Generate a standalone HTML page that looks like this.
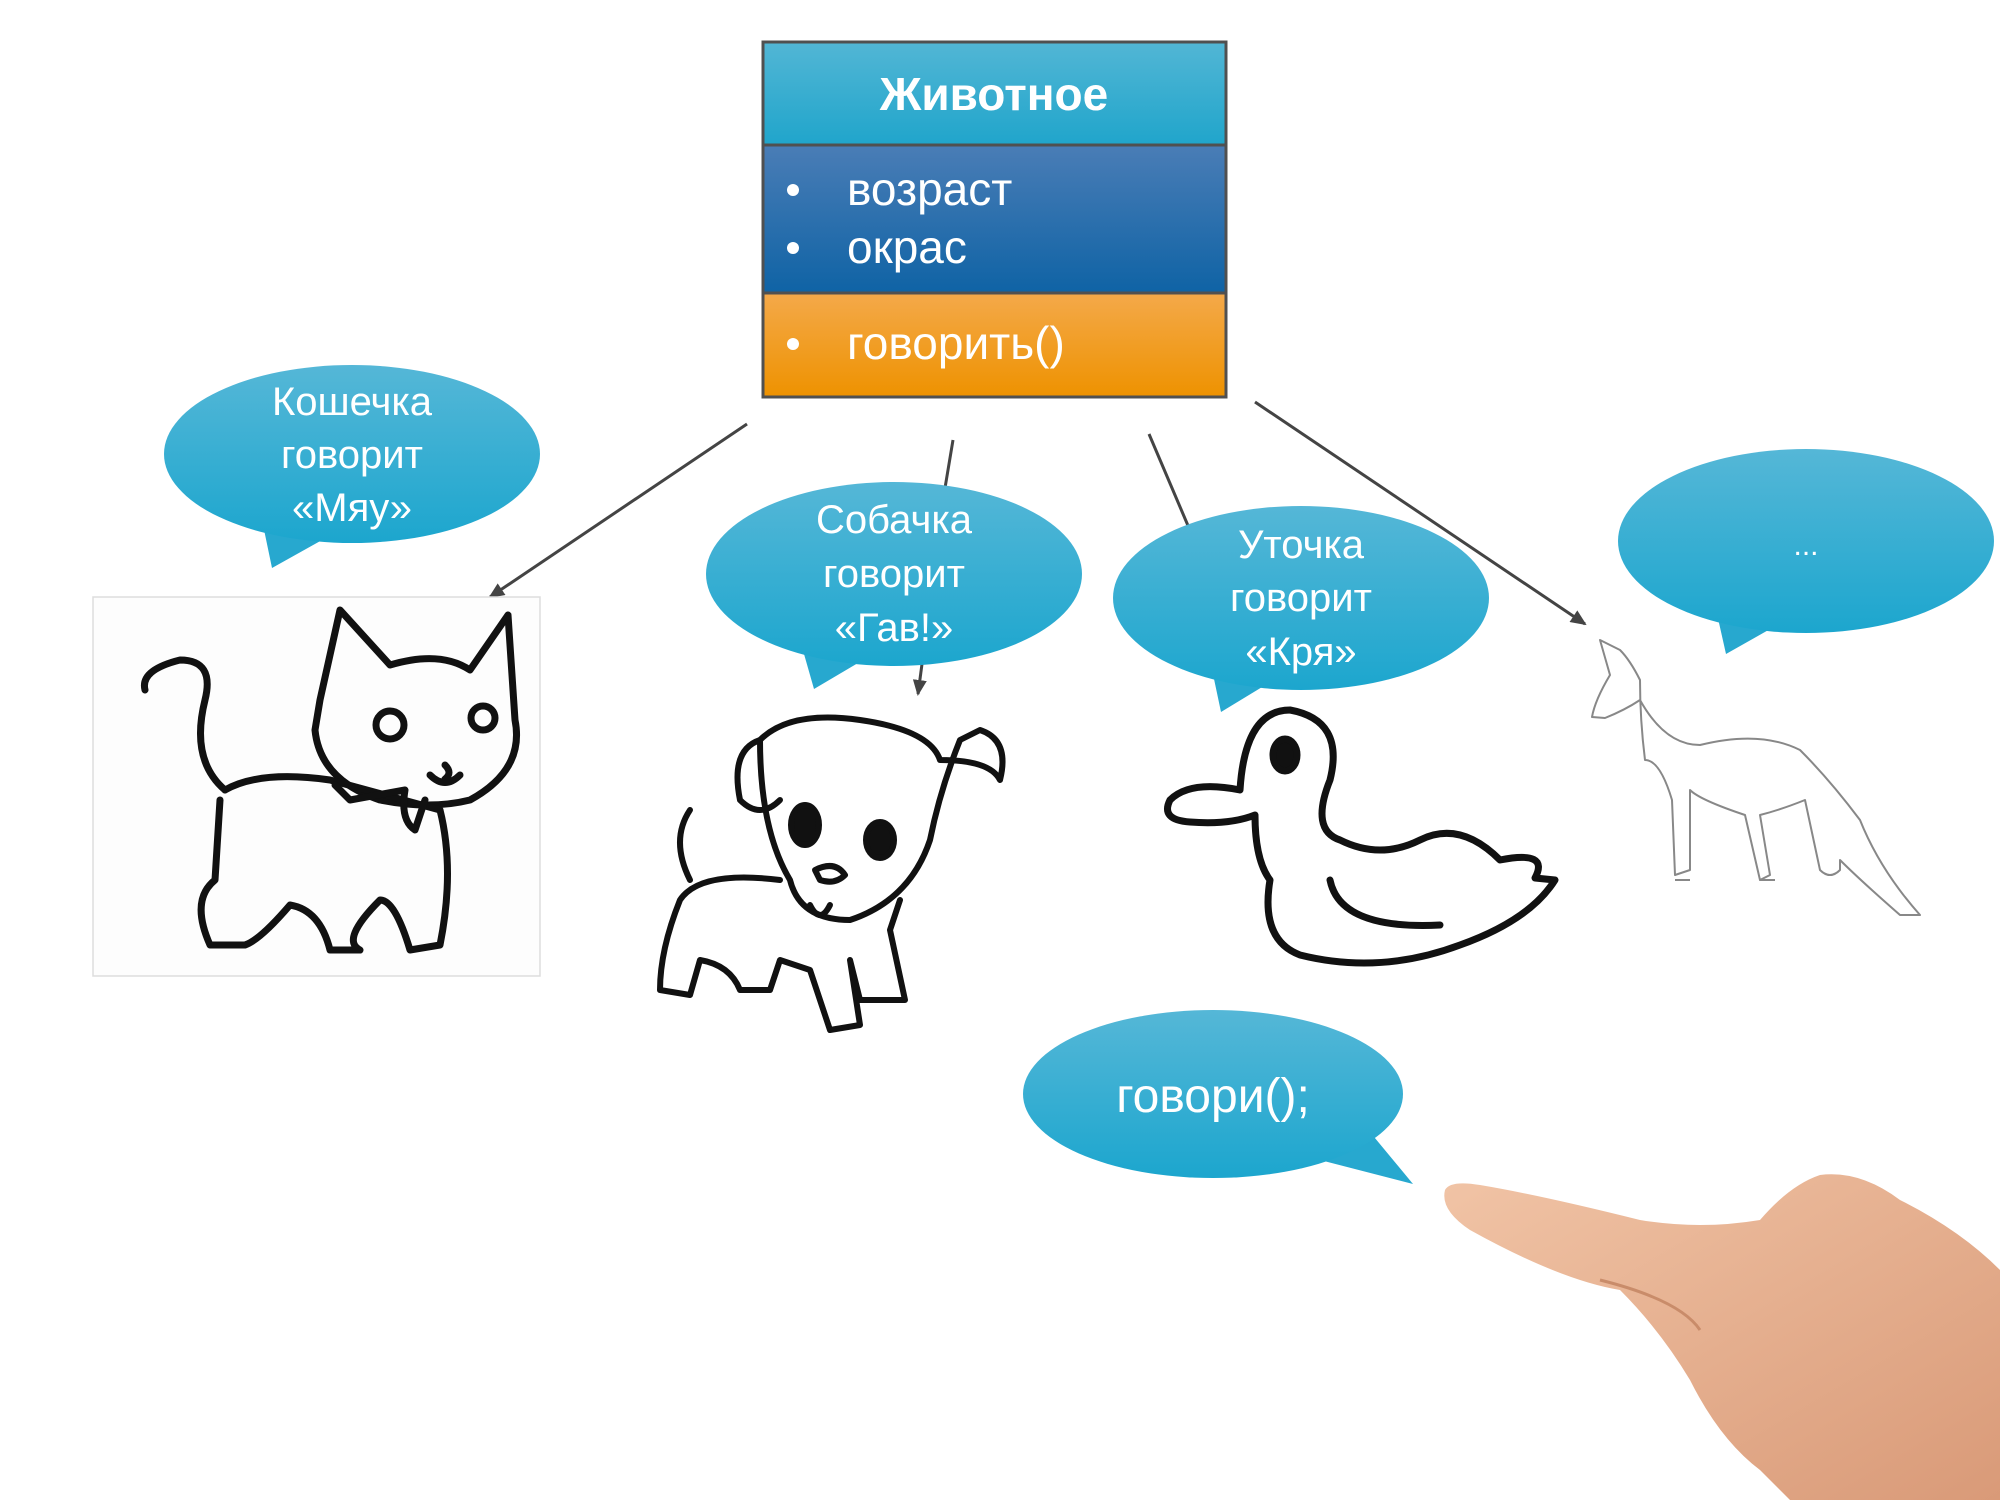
<!DOCTYPE html>
<html><head><meta charset="utf-8"><style>
html,body{margin:0;padding:0;background:#fff;}
svg{display:block;}
text{font-family:"Liberation Sans",sans-serif;}
</style></head><body>
<svg width="2000" height="1500" viewBox="0 0 2000 1500" xmlns="http://www.w3.org/2000/svg">
<defs>
<linearGradient id="gt" x1="0" y1="0" x2="0" y2="1"><stop offset="0" stop-color="#52b6d5"/><stop offset="1" stop-color="#20a5cb"/></linearGradient>
<linearGradient id="gb" x1="0" y1="0" x2="0" y2="1"><stop offset="0" stop-color="#4a7db6"/><stop offset="1" stop-color="#0f63a5"/></linearGradient>
<linearGradient id="go" x1="0" y1="0" x2="0" y2="1"><stop offset="0" stop-color="#f4a94a"/><stop offset="1" stop-color="#ee9200"/></linearGradient>
<linearGradient id="gc" x1="0" y1="0" x2="0" y2="1"><stop offset="0" stop-color="#55b7d7"/><stop offset="1" stop-color="#1ca6ce"/></linearGradient>
<linearGradient id="skin" x1="0" y1="0" x2="1" y2="1"><stop offset="0" stop-color="#f1c4a6"/><stop offset="1" stop-color="#d99a78"/></linearGradient>
<marker id="ar" markerWidth="16" markerHeight="14" refX="14" refY="7" orient="auto" markerUnits="userSpaceOnUse"><path d="M0,0 L16,7 L0,14 z" fill="#444"/></marker>
</defs>

<rect x="763" y="42" width="463" height="103" fill="url(#gt)"/>
<rect x="763" y="145" width="463" height="148" fill="url(#gb)"/>
<rect x="763" y="293" width="463" height="104" fill="url(#go)"/>
<rect x="763" y="42" width="463" height="355" fill="none" stroke="#505050" stroke-width="3"/>
<line x1="763" y1="145" x2="1226" y2="145" stroke="#505050" stroke-width="3"/>
<line x1="763" y1="293" x2="1226" y2="293" stroke="#505050" stroke-width="3"/>
<text x="994" y="110" fill="#fff" font-size="46" font-weight="bold" text-anchor="middle">Животное</text>
<g fill="#fff" font-size="46">
<circle cx="793" cy="190" r="6"/><text x="847" y="205">возраст</text>
<circle cx="793" cy="248" r="6"/><text x="847" y="263">окрас</text>
<circle cx="793" cy="344" r="6"/><text x="847" y="359">говорить()</text>
</g>

<g stroke="#444" stroke-width="3" fill="none">
<line x1="747" y1="424" x2="490" y2="597" marker-end="url(#ar)"/>
<line x1="953" y1="440" x2="945" y2="488"/>
<line x1="922" y1="664" x2="918" y2="694" marker-end="url(#ar)"/>
<line x1="1149" y1="434" x2="1189" y2="528"/>
<line x1="1255" y1="402" x2="1585" y2="624" marker-end="url(#ar)"/>
</g>

<g fill="#27a8cf">
<path d="M262,520 L272,568 L340,530 z"/>
<path d="M800,640 L814,689 L880,650 z"/>
<path d="M1210,660 L1221,712 L1290,670 z"/>
<path d="M1715,605 L1726,654 L1795,615 z"/>
<path d="M1360,1120 L1413,1184 L1320,1160 z"/>
</g>
<g fill="url(#gc)">
<ellipse cx="352" cy="454" rx="188" ry="89"/>
<ellipse cx="894" cy="574" rx="188" ry="92"/>
<ellipse cx="1301" cy="598" rx="188" ry="92"/>
<ellipse cx="1806" cy="541" rx="188" ry="92"/>
<ellipse cx="1213" cy="1094" rx="190" ry="84"/>
</g>
<g fill="#fff" font-size="40" text-anchor="middle">
<text x="352" y="415">Кошечка</text><text x="352" y="468">говорит</text><text x="352" y="521">«Мяу»</text>
<text x="894" y="533">Собачка</text><text x="894" y="587">говорит</text><text x="894" y="641">«Гав!»</text>
<text x="1301" y="558">Уточка</text><text x="1301" y="611">говорит</text><text x="1301" y="665">«Кря»</text>
<text x="1806" y="555" font-size="30">...</text>
<text x="1213" y="1112" font-size="48">говори();</text>
</g>

<rect x="93" y="597" width="447" height="379" fill="#fdfdfd" stroke="#ddd" stroke-width="1.5"/>
<g fill="none" stroke="#111" stroke-width="7" stroke-linejoin="round" stroke-linecap="round">
<path d="M320,700 L340,610 L390,665 Q440,650 470,670 L508,615 L515,720 Q525,770 470,800 Q430,810 380,800 Q320,780 315,730 Z"/>
<path d="M225,790 Q260,770 330,780 L440,810 Q455,870 440,945 L410,950 Q395,900 380,900 Q340,940 360,950 L330,950 Q320,910 290,905 Q260,940 245,945 L210,945 Q190,900 215,880 L220,800"/>
<path d="M225,790 Q190,760 205,700 Q215,660 180,660 Q140,670 145,690"/>
<path d="M335,785 L350,800 L405,790 Q400,820 415,830 L425,800"/>
<circle cx="390" cy="725" r="14"/><circle cx="483" cy="718" r="12"/>
<path d="M445,765 q8,8 0,14 M430,775 q15,15 30,0"/>
</g>

<g fill="none" stroke="#111" stroke-width="6" stroke-linejoin="round" stroke-linecap="round">
<path d="M760,740 Q790,710 860,720 Q930,730 940,760 Q990,760 1000,780 Q1010,740 980,730 L960,740 Q940,790 930,840 Q910,900 850,920 Q800,920 790,880 Q760,830 760,740 Z"/>
<path d="M760,740 Q730,750 740,800 Q760,820 780,800"/>
<path d="M780,880 Q700,870 680,900 Q660,950 660,990 L690,995 L700,960 Q730,965 740,990 L770,990 L780,960 L810,970 L830,1030 L860,1025 L850,960 L860,1000 L905,1000 L890,930 L900,900"/>
<path d="M690,880 Q670,840 690,810"/>
<ellipse cx="805" cy="825" rx="14" ry="20" fill="#111"/><ellipse cx="880" cy="840" rx="14" ry="18" fill="#111"/>
<path d="M815,870 Q835,860 845,875 Q835,885 820,880 Z"/><path d="M810,905 q10,20 20,0"/>
</g>

<g fill="none" stroke="#111" stroke-width="7" stroke-linejoin="round" stroke-linecap="round">
<path d="M1240,790 Q1190,780 1170,800 Q1160,820 1190,822 Q1230,825 1255,815 Q1255,860 1270,880 Q1260,940 1300,955 Q1380,975 1460,945 Q1530,920 1555,880 L1535,878 Q1550,850 1500,860 Q1460,820 1420,840 Q1380,860 1340,840 Q1310,830 1330,780 Q1345,720 1290,710 Q1245,710 1240,790 Z"/>
<path d="M1330,880 Q1340,930 1440,925"/>
<ellipse cx="1285" cy="755" rx="12" ry="16" fill="#111"/>
</g>

<g fill="none" stroke="#888" stroke-width="2" stroke-linejoin="round">
<path d="M1600,640 L1610,675 Q1595,700 1592,717 L1605,718 Q1625,710 1640,700 Q1665,745 1700,745 Q1760,730 1800,750 Q1830,780 1860,820 Q1880,870 1920,915 L1900,915 Q1860,880 1840,860 L1840,870 Q1830,880 1820,870 L1805,800 Q1780,810 1760,815 L1770,875 L1760,880 L1745,815 Q1700,800 1690,790 L1690,870 L1675,875 L1672,800 Q1660,760 1645,760 Q1640,720 1640,680 Q1630,660 1620,650 Z"/>
<path d="M1675,880 L1690,880 M1760,880 L1775,880"/>
</g>

<path d="M1445,1190 Q1440,1210 1470,1230 Q1560,1280 1620,1290 Q1660,1330 1690,1380 Q1720,1440 1760,1470 L1790,1500 L2000,1500 L2000,1270 Q1960,1230 1900,1200 Q1860,1170 1820,1175 Q1790,1185 1760,1220 Q1700,1230 1640,1220 Q1540,1195 1480,1185 Q1450,1180 1445,1190 Z" fill="url(#skin)"/>
<path d="M1600,1280 Q1680,1300 1700,1330" stroke="#c98c6a" stroke-width="3" fill="none"/>
</svg>
</body></html>
